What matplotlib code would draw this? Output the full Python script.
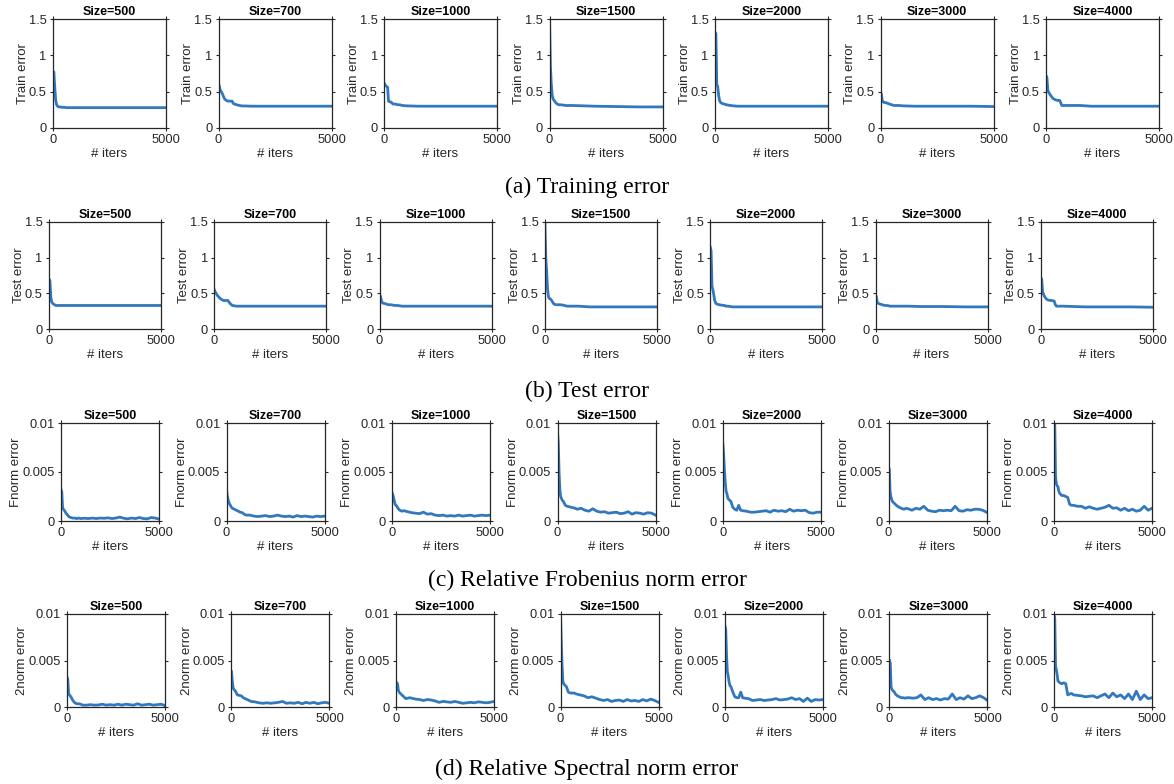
import matplotlib
matplotlib.use("Agg")
import matplotlib.pyplot as plt
import numpy as np

# -----------------------------
# Data
# -----------------------------
SIZES = [500, 700, 1000, 1500, 2000, 3000, 4000]

# iteration grid for the train / test rows
ITERS_AB = [0, 40, 80, 120, 160, 200, 250, 300, 400, 500, 600, 650, 700, 800,
            1000, 1500, 2000, 3000, 4000, 5000]

train_500 = [.78, .77, .55, .38, .32, .30, .29, .29, .285, .285, .28, .28, .28, .28, .28, .28, .28, .28, .28, .28]
train_700 = [.62, .57, .52, .50, .48, .45, .41, .39, .37, .37, .37, .34, .33, .32, .305, .30, .30, .30, .30, .30]
train_1000 = [.62, .60, .58, .57, .56, .37, .36, .36, .33, .33, .32, .32, .32, .31, .305, .30, .30, .30, .30, .30]
train_1500 = [1.5, .85, .60, .45, .40, .38, .36, .34, .32, .32, .315, .315, .31, .31, .31, .305, .30, .295, .29, .29]
train_2000 = [1.32, 1.30, .60, .57, .45, .38, .35, .34, .33, .32, .315, .31, .31, .305, .30, .30, .30, .30, .30, .30]
train_3000 = [.49, .47, .37, .36, .35, .35, .35, .34, .33, .32, .31, .31, .31, .31, .305, .30, .30, .30, .30, .295]
train_4000 = [.72, .70, .52, .49, .47, .45, .43, .41, .39, .38, .38, .35, .31, .31, .31, .31, .30, .30, .30, .30]

test_500 = [.70, .68, .45, .38, .36, .35, .34, .33, .33, .33, .33, .33, .33, .33, .33, .33, .33, .33, .33, .33]
test_700 = [.55, .52, .50, .48, .46, .45, .43, .42, .40, .40, .40, .38, .36, .33, .32, .32, .32, .32, .32, .32]
test_1000 = [.48, .46, .40, .37, .36, .36, .355, .35, .34, .34, .335, .33, .33, .33, .32, .32, .32, .32, .32, .32]
test_1500 = [1.48, 1.0, .80, .55, .45, .43, .42, .40, .35, .34, .34, .34, .34, .335, .32, .32, .31, .31, .31, .31]
test_2000 = [1.15, 1.10, .60, .55, .48, .40, .36, .35, .34, .335, .33, .33, .32, .32, .31, .31, .31, .31, .31, .31]
test_3000 = [.48, .45, .37, .36, .355, .35, .345, .34, .33, .33, .325, .32, .32, .32, .32, .32, .315, .315, .31, .31]
test_4000 = [.72, .70, .52, .49, .46, .44, .42, .41, .40, .40, .39, .34, .32, .32, .32, .315, .31, .31, .31, .305]

# iteration grid for the norm-error rows (values below are x1e-3)
ITERS_CD = [0, 40, 80, 120, 160, 200, 250, 300, 400, 500, 600, 700, 800, 900, 1000,
            1200, 1400, 1600, 1800, 2000, 2200, 2400, 2600, 2800, 3000,
            3200, 3400, 3600, 3800, 4000, 4200, 4400, 4600, 4800, 5000]

fnorm_500 = [3.2, 3.0, 1.4, 1.2, 1.1, 1.0, 0.8, 0.7, 0.45, 0.35, 0.3, 0.3, 0.25, 0.3, 0.25,
             0.28, 0.25, 0.3, 0.25, 0.3, 0.28, 0.32, 0.25, 0.3, 0.4,
             0.28, 0.22, 0.3, 0.25, 0.35, 0.25, 0.22, 0.35, 0.3, 0.2]
fnorm_700 = [3.2, 2.6, 2.2, 1.9, 1.7, 1.6, 1.4, 1.3, 1.2, 1.1, 1.0, 0.9, 0.85, 0.7, 0.6,
             0.6, 0.5, 0.45, 0.5, 0.55, 0.45, 0.5, 0.6, 0.5, 0.45,
             0.5, 0.4, 0.55, 0.45, 0.5, 0.45, 0.4, 0.5, 0.45, 0.5]
fnorm_1000 = [2.9, 2.7, 2.4, 2.0, 1.7, 1.6, 1.5, 1.3, 1.1, 1.0, 1.05, 1.0, 0.95, 0.9, 0.85,
              0.8, 0.75, 0.9, 0.7, 0.75, 0.6, 0.55, 0.6, 0.5, 0.55,
              0.5, 0.6, 0.5, 0.55, 0.6, 0.5, 0.55, 0.6, 0.55, 0.6]
fnorm_1500 = [9.1, 8.0, 5.0, 3.2, 2.5, 2.3, 2.1, 2.0, 1.6, 1.5, 1.45, 1.4, 1.35, 1.3, 1.2,
              1.3, 1.1, 1.0, 1.25, 1.0, 0.9, 0.95, 0.8, 0.85, 0.9,
              0.75, 0.8, 0.95, 0.7, 0.85, 0.8, 0.7, 0.85, 0.8, 0.6]
fnorm_2000 = [7.8, 6.5, 5.0, 3.8, 3.0, 2.8, 2.3, 2.2, 2.0, 1.4, 1.2, 1.1, 1.6, 1.1, 1.05,
              1.0, 0.9, 0.9, 0.95, 1.0, 1.05, 0.9, 1.1, 1.0, 1.05,
              0.95, 1.2, 1.0, 1.1, 1.05, 1.1, 0.85, 0.8, 0.9, 0.9]
fnorm_3000 = [5.5, 5.3, 3.0, 2.5, 2.2, 2.0, 1.9, 1.8, 1.6, 1.45, 1.35, 1.25, 1.2, 1.3, 1.25,
              1.1, 1.3, 1.2, 1.5, 1.1, 1.0, 0.95, 1.1, 1.05, 1.1,
              1.05, 1.5, 1.05, 1.0, 1.15, 1.1, 1.2, 1.2, 1.1, 0.9]
fnorm_4000 = [10.0, 9.8, 4.5, 3.8, 3.6, 3.5, 3.0, 2.8, 2.6, 2.6, 2.5, 2.4, 1.7, 1.6, 1.6,
              1.5, 1.5, 1.3, 1.45, 1.3, 1.2, 1.3, 1.4, 1.6, 1.3,
              1.35, 1.1, 1.3, 1.05, 1.2, 1.0, 1.1, 1.5, 1.1, 1.3]

snorm_500 = [3.2, 3.0, 1.5, 1.3, 1.2, 1.1, 0.9, 0.7, 0.45, 0.35, 0.35, 0.3, 0.2, 0.2, 0.2,
             0.25, 0.2, 0.22, 0.3, 0.2, 0.25, 0.2, 0.3, 0.2, 0.3,
             0.25, 0.2, 0.35, 0.2, 0.25, 0.3, 0.2, 0.25, 0.3, 0.15]
snorm_700 = [3.8, 2.8, 2.1, 1.9, 1.8, 1.7, 1.5, 1.3, 1.25, 1.2, 1.0, 0.9, 0.8, 0.7, 0.6,
             0.55, 0.45, 0.4, 0.45, 0.4, 0.45, 0.5, 0.6, 0.4, 0.45,
             0.4, 0.5, 0.35, 0.5, 0.4, 0.5, 0.35, 0.45, 0.5, 0.4]
snorm_1000 = [2.7, 2.6, 2.5, 1.8, 1.6, 1.5, 1.4, 1.3, 1.1, 0.9, 0.95, 1.0, 0.95, 0.9, 0.85,
              0.8, 0.7, 0.8, 0.75, 0.65, 0.5, 0.6, 0.55, 0.5, 0.6,
              0.5, 0.4, 0.45, 0.5, 0.45, 0.55, 0.5, 0.45, 0.5, 0.6]
snorm_1500 = [10.0, 7.0, 4.5, 2.8, 2.5, 2.4, 2.3, 2.2, 1.6, 1.5, 1.5, 1.5, 1.4, 1.35, 1.3,
              1.2, 1.0, 1.1, 0.95, 0.8, 0.7, 0.8, 0.6, 0.7, 0.75,
              0.6, 0.8, 0.65, 0.7, 0.6, 0.8, 0.65, 0.85, 0.7, 0.5]
snorm_2000 = [8.7, 8.3, 5.5, 3.8, 3.4, 2.8, 2.3, 2.2, 1.6, 1.1, 1.0, 1.0, 1.6, 1.0, 0.95,
              0.9, 0.7, 0.75, 0.8, 0.7, 0.75, 0.8, 0.9, 0.75, 0.8,
              0.85, 1.0, 0.8, 0.9, 0.6, 0.95, 0.6, 0.8, 0.75, 0.8]
snorm_3000 = [5.0, 4.7, 2.2, 1.9, 1.8, 1.7, 1.6, 1.4, 1.2, 1.1, 1.0, 1.0, 0.95, 1.0, 1.0,
              0.95, 1.0, 1.3, 0.8, 1.0, 0.8, 0.9, 0.75, 0.9, 0.85,
              1.4, 0.8, 1.0, 0.85, 1.2, 0.9, 1.0, 1.2, 1.0, 0.7]
snorm_4000 = [10.0, 9.5, 4.4, 4.0, 3.5, 2.8, 2.7, 2.6, 2.5, 2.6, 2.5, 1.3, 1.4, 1.45, 1.3,
              1.25, 1.2, 1.1, 1.15, 1.2, 1.0, 1.2, 1.4, 1.0, 1.5,
              1.1, 1.3, 0.9, 1.4, 0.8, 1.7, 0.8, 1.3, 0.9, 1.0]

train_curves = [train_500, train_700, train_1000, train_1500, train_2000, train_3000, train_4000]
test_curves = [test_500, test_700, test_1000, test_1500, test_2000, test_3000, test_4000]
fnorm_curves = [fnorm_500, fnorm_700, fnorm_1000, fnorm_1500, fnorm_2000, fnorm_3000, fnorm_4000]
snorm_curves = [snorm_500, snorm_700, snorm_1000, snorm_1500, snorm_2000, snorm_3000, snorm_4000]

# -----------------------------
# Layout (pixel boxes of each row)
# -----------------------------
W, H = 1174, 784
LINE_COLOR = "#3278BD"
AX_COLOR = "#262626"

rows = [
    dict(curves=train_curves, x=ITERS_AB, scale=1.0, ylabel="Train error",
         yticks=[0, 0.5, 1, 1.5], ylabels=["0", "0.5", "1", "1.5"], ymax=1.5,
         left=53, step=165.5, width=113, top=19, bottom=128,
         caption="(a) Training error", cap_y=187),
    dict(curves=test_curves, x=ITERS_AB, scale=1.0, ylabel="Test error",
         yticks=[0, 0.5, 1, 1.5], ylabels=["0", "0.5", "1", "1.5"], ymax=1.5,
         left=49, step=165.3, width=112, top=222, bottom=329,
         caption="(b) Test error", cap_y=391),
    dict(curves=fnorm_curves, x=ITERS_CD, scale=1e-3, ylabel="Fnorm error",
         yticks=[0, 0.005, 0.01], ylabels=["0", "0.005", "0.01"], ymax=0.01,
         left=61, step=165.5, width=98, top=423, bottom=521,
         caption="(c) Relative Frobenius norm error", cap_y=580),
    dict(curves=snorm_curves, x=ITERS_CD, scale=1e-3, ylabel="2norm error",
         yticks=[0, 0.005, 0.01], ylabels=["0", "0.005", "0.01"], ymax=0.01,
         left=67, step=164.5, width=98, top=614, bottom=707,
         caption="(d) Relative Spectral norm error", cap_y=769),
]

plt.rcParams["font.family"] = ["Liberation Sans", "DejaVu Sans"]

fig = plt.figure(figsize=(W / 100, H / 100), dpi=100)

for row in rows:
    for i, size in enumerate(SIZES):
        left = row["left"] + i * row["step"]
        ax = fig.add_axes([left / W, 1 - row["bottom"] / H,
                           row["width"] / W, (row["bottom"] - row["top"]) / H])
        y = np.array(row["curves"][i]) * row["scale"]
        ax.plot(row["x"], y, color=LINE_COLOR, lw=2.0, solid_joinstyle="round")
        ax.set_xlim(0, 5000)
        ax.set_ylim(0, row["ymax"])
        ax.set_xticks([0, 5000])
        ax.set_xticklabels(["0", "5000"])
        ax.set_yticks(row["yticks"])
        ax.set_yticklabels(row["ylabels"])
        ax.tick_params(direction="out", length=2.5, width=0.8, colors=AX_COLOR,
                       labelsize=9.3, pad=2, top=True, right=True)
        for sp in ax.spines.values():
            sp.set_color(AX_COLOR)
            sp.set_linewidth(0.9)
        ax.set_title(f"Size={size}", fontsize=9, fontweight="bold", pad=3)
        ax.set_xlabel("# iters", fontsize=9.5, color=AX_COLOR, labelpad=1)
        ax.set_ylabel(row["ylabel"], fontsize=9.5, color=AX_COLOR, labelpad=0)

    fig.text(0.5, 1 - row["cap_y"] / H, row["caption"], ha="center", va="center",
             fontsize=17, family=["Liberation Serif", "DejaVu Serif"])

fig.savefig("out.png", dpi=100)
